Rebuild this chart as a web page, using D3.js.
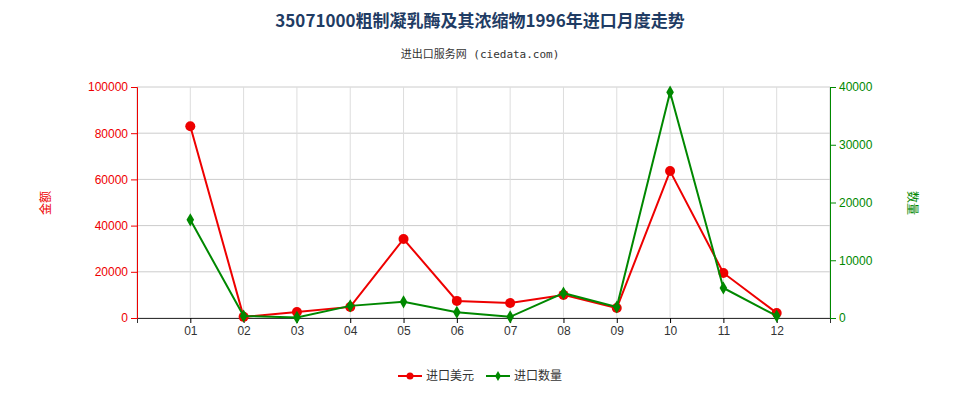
<!DOCTYPE html><html><head><meta charset="utf-8"><script src="https://cdn.jsdelivr.net/npm/d3@7"></script>
<style>body{margin:0;background:#fff;font-family:"Noto Sans CJK SC","Noto Sans",sans-serif}</style></head><body><svg id="c" width="960" height="400"></svg>
<script>
const months=["01","02","03","04","05","06","07","08","09","10","11","12"];
const usd=[83000,500,2600,4800,34200,7400,6500,10000,4300,63600,19500,2200];
const qty=[17000,350,100,2100,2800,1000,200,4300,1900,39100,5200,350];
const leftTicks=[0,20000,40000,60000,80000,100000];
const rightTicks=[0,10000,20000,30000,40000];
const svg=d3.select("#c");
const L=137,R=830,T=87,B=318;
const x=d3.scalePoint().domain(months).range([L,R]).padding(1);
const yl=d3.scaleLinear().domain([0,100000]).range([B,T]);
const yr=d3.scaleLinear().domain([0,40000]).range([B,T]);
const g=svg.append("g");
leftTicks.forEach(t=>g.append("line").attr("x1",L).attr("x2",R).attr("y1",yl(t)).attr("y2",yl(t)).attr("stroke","#ccc"));
months.forEach(m=>g.append("line").attr("x1",x(m)).attr("x2",x(m)).attr("y1",T).attr("y2",B).attr("stroke","#ddd"));
g.append("line").attr("x1",L).attr("x2",L).attr("y1",T).attr("y2",B).attr("stroke","#ccc");
g.append("line").attr("x1",R).attr("x2",R).attr("y1",T).attr("y2",B).attr("stroke","#ccc");
const ax=svg.append("g").attr("transform",`translate(0,${B})`).call(d3.axisBottom(x).tickSize(5));
ax.selectAll("text").attr("font-size",12).attr("fill","#333");ax.select(".domain").attr("stroke","#333");
const al=svg.append("g").attr("transform",`translate(${L},0)`).call(d3.axisLeft(yl).tickValues(leftTicks).tickFormat(d3.format("d")));
al.selectAll("text").attr("font-size",12).attr("fill","#e00");al.selectAll("line,.domain").attr("stroke","#e00");
const ar=svg.append("g").attr("transform",`translate(${R},0)`).call(d3.axisRight(yr).tickValues(rightTicks).tickFormat(d3.format("d")));
ar.selectAll("text").attr("font-size",12).attr("fill","#080");ar.selectAll("line,.domain").attr("stroke","#080");
svg.append("path").datum(usd).attr("fill","none").attr("stroke","#e00").attr("stroke-width",2)
 .attr("d",d3.line().x((d,i)=>x(months[i])).y(d=>yl(d)));
svg.selectAll(".r").data(usd).join("circle").attr("cx",(d,i)=>x(months[i])).attr("cy",d=>yl(d)).attr("r",5).attr("fill","#e00");
svg.append("path").datum(qty).attr("fill","none").attr("stroke","#080").attr("stroke-width",2)
 .attr("d",d3.line().x((d,i)=>x(months[i])).y(d=>yr(d)));
svg.selectAll(".g").data(qty).join("path").attr("transform",(d,i)=>`translate(${x(months[i])},${yr(d)})`)
 .attr("d",d3.symbol(d3.symbolDiamond,50)).attr("fill","#080");
svg.append("text").attr("x",480).attr("y",27).attr("text-anchor","middle").attr("font-size",17).attr("font-weight","bold").attr("fill","#1f3c64").text("35071000粗制凝乳酶及其浓缩物1996年进口月度走势");
svg.append("text").attr("x",480).attr("y",58).attr("text-anchor","middle").attr("font-size",11).attr("font-family","'DejaVu Sans Mono','Noto Sans CJK SC',monospace").attr("fill","#333").text("进出口服务网 (ciedata.com)");
svg.append("text").attr("transform","translate(50,203) rotate(-90)").attr("text-anchor","middle").attr("font-size",12).attr("fill","#e00").text("金额");
svg.append("text").attr("transform","translate(908,203) rotate(90)").attr("text-anchor","middle").attr("font-size",12).attr("fill","#080").text("数量");
const lg=svg.append("g").attr("transform","translate(398,376)");
lg.append("line").attr("x1",0).attr("x2",24).attr("stroke","#e00").attr("stroke-width",2);
lg.append("circle").attr("cx",12).attr("r",3.5).attr("fill","#e00");
lg.append("text").attr("x",28).attr("y",4).attr("font-size",12).attr("fill","#333").text("进口美元");
lg.append("line").attr("x1",88).attr("x2",112).attr("stroke","#080").attr("stroke-width",2);
lg.append("path").attr("transform","translate(100,0)").attr("d",d3.symbol(d3.symbolDiamond,30)).attr("fill","#080");
lg.append("text").attr("x",116).attr("y",4).attr("font-size",12).attr("fill","#333").text("进口数量");
</script></body></html>
